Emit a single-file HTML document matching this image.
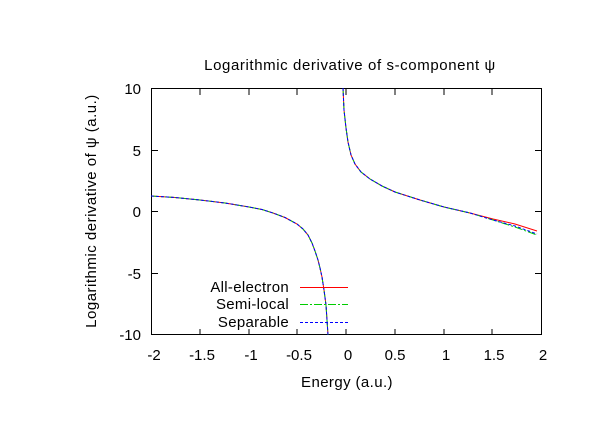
<!DOCTYPE html>
<html><head><meta charset="utf-8"><style>
body{margin:0;background:#fff}
svg{display:block;font-family:"Liberation Sans","DejaVu Sans",sans-serif;font-size:15px}
</style></head><body>
<svg width="612" height="428" viewBox="0 0 612 428">
<rect width="612" height="428" fill="#fff"/>
<g stroke="#000" stroke-width="1" fill="none">
<rect x="151.5" y="88.5" width="390" height="246"/>
<path d="M200 335v-6M200 89v6M249 335v-6M249 89v6M297 335v-6M297 89v6M346 335v-6M346 89v6M395 335v-6M395 89v6M444 335v-6M444 89v6M492 335v-6M492 89v6"/>
<path d="M152 150.5h6M541 150.5h-6M152 211.5h6M541 211.5h-6M152 273.5h6M541 273.5h-6"/>
</g>
<g text-anchor="end">
<text x="141" y="94">10</text><text x="141" y="156">5</text><text x="141" y="217">0</text>
<text x="141" y="279">-5</text><text x="141" y="340">-10</text>
</g>
<g text-anchor="middle">
<text x="154" y="360">-2</text><text x="202" y="360">-1.5</text><text x="251" y="360">-1</text>
<text x="299" y="360">-0.5</text><text x="348" y="360">0</text><text x="395" y="360">0.5</text>
<text x="446" y="360">1</text><text x="494" y="360">1.5</text><text x="543" y="360">2</text>
<text x="347" y="387" letter-spacing="0.4">Energy (a.u.)</text>
<text x="350" y="70" letter-spacing="0.6">Logarithmic derivative of s-component ψ</text>
<text transform="translate(96,211) rotate(-90)" letter-spacing="0.5">Logarithmic derivative of ψ (a.u.)</text>
</g>
<defs>
<polyline id="L" points="151,196 175,197.5 200,200 225,203 249,207 262,209.5 273,213 285,217.5 297,224 303,229 308,235 312,243 315,251 318,260 320,268 322,277 324,290 326,305 327,320 328,335"/>
</defs>
<g fill="none" stroke-width="1">
<use href="#L" stroke="#f00"/>
<use href="#L" stroke="#0c0" stroke-dasharray="8,2,2,2"/>
<use href="#L" stroke="#00f" stroke-dasharray="3,2"/>
<polyline stroke="#f00" points="343,88 344,110 346,128 348,142 351,155 355,164 361,172 370,179 382,186 395,192 420,200 444,207 470,213 493,219 515,224 537,231"/>
<polyline stroke="#0c0" stroke-dasharray="8,2,2,2" points="343,88 344,110 346,128 348,142 351,155 355,164 361,172 370,179 382,186 395,192 420,200 444,207 470,213 493,220 515,227 537,235"/>
<polyline stroke="#00f" stroke-dasharray="3,2" points="343,88 344,110 346,128 348,142 351,155 355,164 361,172 370,179 382,186 395,192 420,200 444,207 470,213 493,220 515,226 537,234"/>
<line x1="300" y1="287.5" x2="348" y2="287.5" stroke="#f00"/>
<line x1="300" y1="304.5" x2="348" y2="304.5" stroke="#0c0" stroke-dasharray="8,2,2,2"/>
<line x1="300" y1="322.5" x2="348" y2="322.5" stroke="#00f" stroke-dasharray="3,2"/>
</g>
<g text-anchor="end" letter-spacing="0.3">
<text x="289" y="292">All-electron</text>
<text x="289" y="309">Semi-local</text>
<text x="289" y="327">Separable</text>
</g>
</svg>
</body></html>
